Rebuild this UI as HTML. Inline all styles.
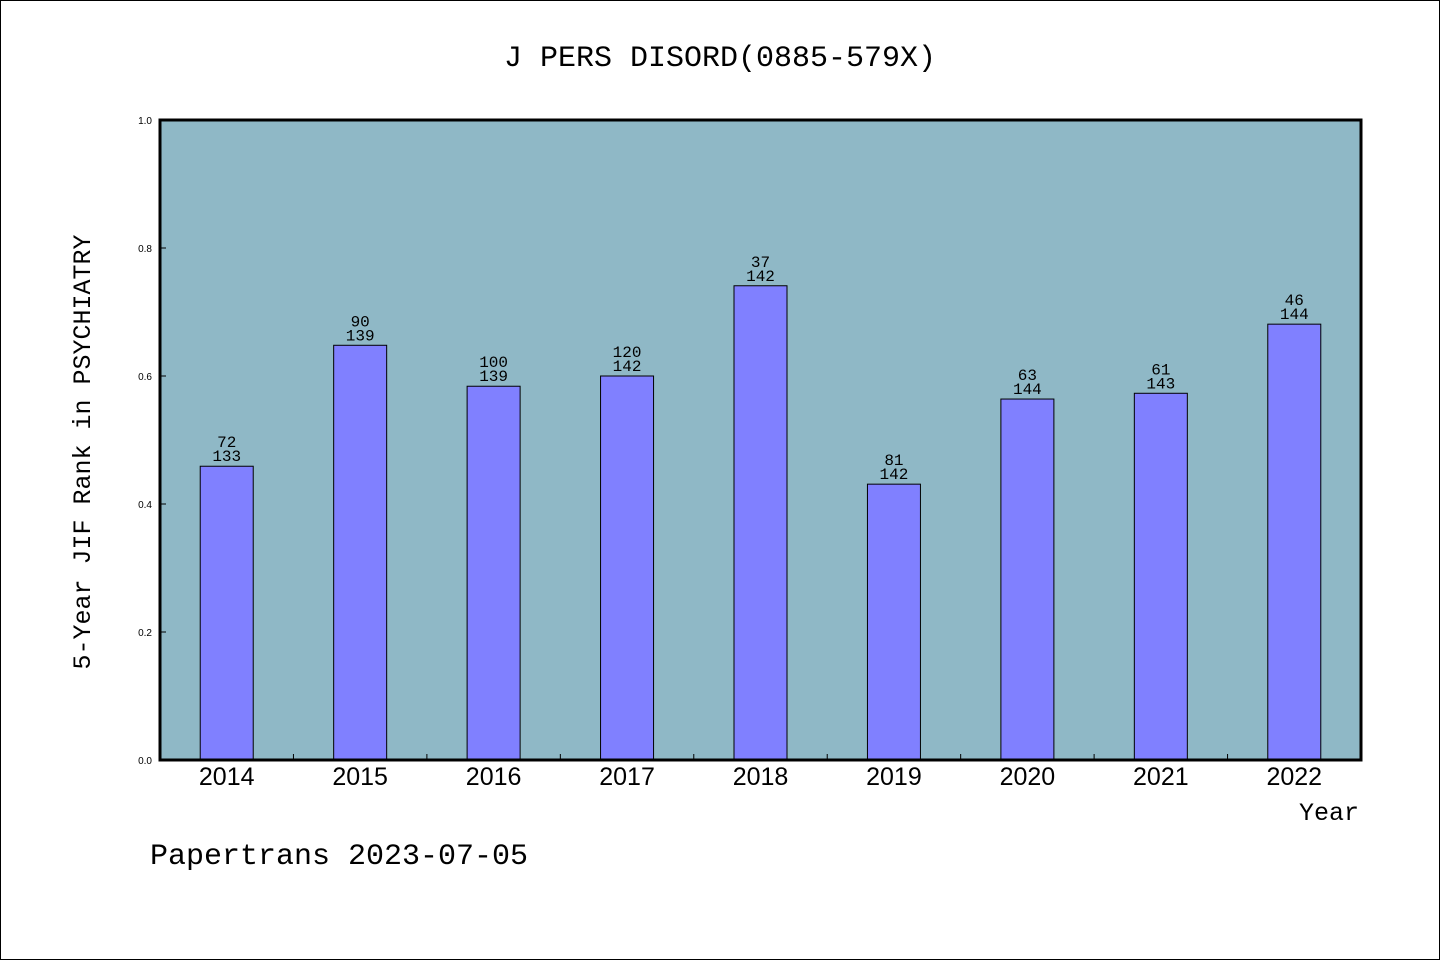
<!DOCTYPE html>
<html><head><meta charset="utf-8"><style>
body{margin:0;background:#fff}
svg{display:block}
</style></head><body>
<svg id="chart" width="1440" height="960" xmlns="http://www.w3.org/2000/svg">
<rect x="0.5" y="0.5" width="1439" height="959" fill="#fff" stroke="#000"/>
<text x="720" y="66" text-anchor="middle" font-family="WenQuanYi Zen Hei, Liberation Mono, monospace" font-size="30">J PERS DISORD(0885-579X)</text>
<rect x="160" y="120" width="1201" height="640" fill="#8fb8c6"/>
<g id="bars"></g>
<g id="axes"></g>
<rect x="160" y="120" width="1201" height="640" fill="none" stroke="#000" stroke-width="3"/>
<text transform="translate(90,452) rotate(-90)" text-anchor="middle" font-family="WenQuanYi Zen Hei, Liberation Mono, monospace" font-size="25">5-Year JIF Rank in PSYCHIATRY</text>
<text x="1359" y="820" text-anchor="end" font-family="WenQuanYi Zen Hei, Liberation Mono, monospace" font-size="25">Year</text>
<text x="150" y="864" font-family="WenQuanYi Zen Hei, Liberation Mono, monospace" font-size="30">Papertrans 2023-07-05</text>
</svg>
<script>
const years=['2014','2015','2016','2017','2018','2019','2020','2021','2022'];
const values=[0.459,0.648,0.584,0.600,0.741,0.431,0.564,0.573,0.681];
const ranks=['72','90','100','120','37','81','63','61','46'];
const totals=['133','139','139','142','142','142','144','143','144'];
const yTicks=['0.0','0.2','0.4','0.6','0.8','1.0'];
const NS='http://www.w3.org/2000/svg';
const X0=160,W=1201,Y0=760,H=640;
const bw=W/years.length;
const xc=i=>X0+bw*(i+0.5);
const ys=v=>Y0-v*H;
function mk(t,a,p){const e=document.createElementNS(NS,t);for(const k in a)e.setAttribute(k,a[k]);p.appendChild(e);return e;}
const gb=document.getElementById('bars'),ga=document.getElementById('axes');
years.forEach((y,i)=>{
 const r=mk('rect',{x:xc(i)-26.5,y:ys(values[i]),width:53,height:Y0-ys(values[i]),fill:'#8080ff',stroke:'#000','stroke-width':1},gb);
 
 
 const t1=mk('text',{x:xc(i),y:ys(values[i])-19,'text-anchor':'middle','font-family':'WenQuanYi Zen Hei, Liberation Mono, monospace','font-size':16},gb);
 t1.textContent=ranks[i];
 
 
 const t2=mk('text',{x:xc(i),y:ys(values[i])-5,'text-anchor':'middle','font-family':'WenQuanYi Zen Hei, Liberation Mono, monospace','font-size':16},gb);
 t2.textContent=totals[i];
 
 
 const xl=mk('text',{x:xc(i),y:785,'text-anchor':'middle','font-family':'Liberation Sans, sans-serif','font-size':25},ga);
 xl.textContent=y;
 
 
 if(i>0){const tk=mk('line',{x1:X0+bw*i,x2:X0+bw*i,y1:Y0,y2:Y0-6,stroke:'#000'},ga);
 
 }
});
yTicks.forEach(s=>{
 const v=parseFloat(s),y=ys(v);
 const tk=mk('line',{x1:X0,x2:X0+6,y1:y,y2:y,stroke:'#000'},ga);
 
 
 const t=mk('text',{x:152,y:y+4,'text-anchor':'end','font-family':'Liberation Sans, sans-serif','font-size':10},ga);
 t.textContent=s;
 
 
});
</script>
</body></html>
